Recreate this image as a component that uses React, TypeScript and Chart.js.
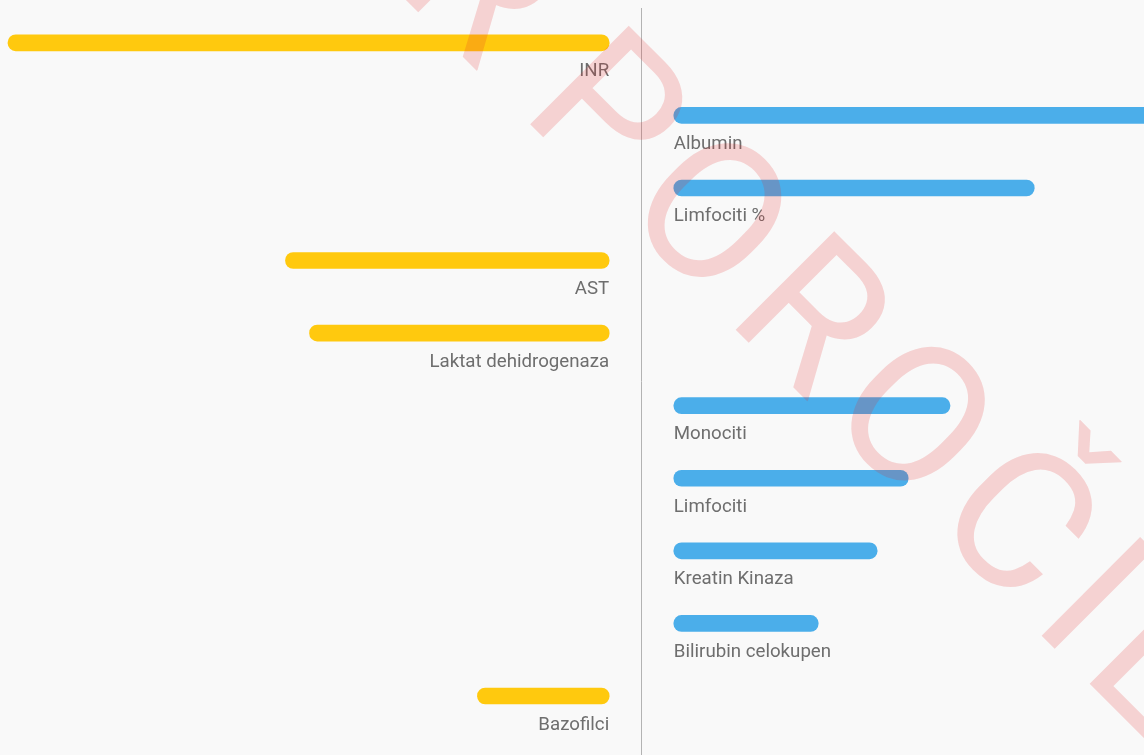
import React, { useEffect, useRef } from "react";
import { Chart, registerables } from "chart.js";

Chart.register(...registerables);

// ---- data ----
const categories = [
  "INR",
  "Albumin",
  "Limfociti %",
  "AST",
  "Laktat dehidrogenaza",
  "Monociti",
  "Limfociti",
  "Kreatin Kinaza",
  "Bilirubin celokupen",
  "Bazofilci",
];
// bars pointing left (yellow)
const leftValues: (number | null)[] = [94.9, null, null, 51.1, 47.3, null, null, null, null, 20.8];
// bars pointing right (blue)
const rightValues: (number | null)[] = [null, 90, 56.9, null, null, 43.6, 37.0, 32.1, 22.8, null];
const axisGap = 5.1;
const scaleLimit = 100;
const watermarkPrefix = "PRIMER";
const watermarkWord = "POROČILA";

const YELLOW = "#ffc90e";
const BLUE = "#4baeea";
const LABEL_COLOR = "#6e6e6e";
const AXIS_COLOR = "#b3b3b3";

const CANVAS_W = 1275;
const CANVAS_H = 755;

const axisLinePlugin = {
  id: "axisLine",
  beforeDatasetsDraw(chart: any) {
    const { ctx, scales } = chart;
    const x = Math.floor(scales.x.getPixelForValue(0)) + 0.5;
    ctx.save();
    ctx.strokeStyle = AXIS_COLOR;
    ctx.lineWidth = 1;
    ctx.beginPath();
    ctx.moveTo(x, 8);
    ctx.lineTo(x, chart.height);
    ctx.stroke();
    ctx.restore();
  },
};

const labelPlugin = {
  id: "barLabels",
  afterDatasetsDraw(chart: any) {
    const { ctx, scales } = chart;
    ctx.save();
    ctx.font = "18.7px Roboto";
    ctx.fillStyle = LABEL_COLOR;
    ctx.textBaseline = "alphabetic";
    categories.forEach((name, i) => {
      const y = scales.y.getPixelForValue(i) + 33.5;
      if (leftValues[i] != null) {
        ctx.textAlign = "right";
        ctx.fillText(name, scales.x.getPixelForValue(-axisGap), y);
      } else {
        ctx.textAlign = "left";
        ctx.fillText(name, scales.x.getPixelForValue(axisGap), y);
      }
    });
    ctx.restore();
  },
};

const watermarkPlugin = {
  id: "watermark",
  afterDraw(chart: any) {
    const { ctx } = chart;
    const fs = 196;
    ctx.save();
    ctx.font = `${fs}px Roboto`;
    (ctx as any).letterSpacing = "16px";
    ctx.fillStyle = "rgba(230, 40, 40, 0.19)";
    ctx.textAlign = "left";
    ctx.textBaseline = "alphabetic";
    ctx.translate(203, -203);
    ctx.rotate(Math.PI / 4);
    const start = 471.6 - 0.127 * fs;
    ctx.fillText(watermarkWord, start, 0);
    ctx.textAlign = "right";
    ctx.fillText(watermarkPrefix, start - 40, 0);
    ctx.restore();
  },
};

export default function App() {
  const ref = useRef<HTMLCanvasElement | null>(null);

  useEffect(() => {
    if (!ref.current) return;
    const leftData = leftValues.map((v) => (v == null ? null : [-axisGap, -axisGap - v]));
    const rightData = rightValues.map((v) => (v == null ? null : [axisGap, axisGap + v]));
    const chart = new Chart(ref.current, {
      type: "bar",
      data: {
        labels: categories,
        datasets: [
          {
            label: "left",
            data: leftData as any,
            backgroundColor: YELLOW,
            barThickness: 16,
            borderRadius: 8,
            borderSkipped: false,
            grouped: false,
            clip: false,
          } as any,
          {
            label: "right",
            data: rightData as any,
            backgroundColor: BLUE,
            barThickness: 16,
            borderRadius: 8,
            borderSkipped: false,
            grouped: false,
            clip: false,
          } as any,
        ],
      },
      options: {
        indexAxis: "y",
        animation: false,
        responsive: false,
        devicePixelRatio: 1,
        layout: { padding: { top: 42.8, bottom: 59, left: 8, right: 0 } },
        plugins: { legend: { display: false }, tooltip: { enabled: false } },
        scales: {
          x: { type: "linear", min: -scaleLimit, max: scaleLimit, display: false },
          y: { type: "category", offset: false, display: false },
        },
      },
      plugins: [axisLinePlugin, labelPlugin, watermarkPlugin],
    });
    return () => chart.destroy();
  }, []);

  return (
    <div style={{ position: "fixed", left: 0, top: 0, width: 1144, height: 755, background: "#f9f9f9", overflow: "hidden" }}>
      <canvas ref={ref} width={CANVAS_W} height={CANVAS_H} style={{ display: "block" }} />
    </div>
  );
}
